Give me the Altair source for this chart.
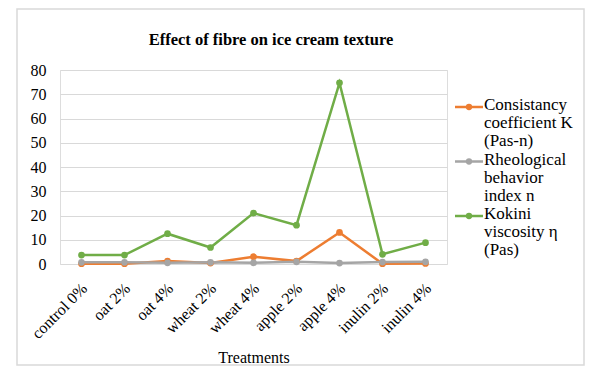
import altair as alt
import pandas as pd

treatments = ["control 0%", "oat 2%", "oat 4%", "wheat 2%", "wheat 4%",
              "apple 2%", "apple 4%", "inulin 2%", "inulin 4%"]
series_names = ["Consistancy coefficient K (Pas-n)",
                "Rheological behavior index n",
                "Kokini viscosity η (Pas)"]
legend_lines = [["Consistancy", "coefficient K", "(Pas-n)"],
                ["Rheological", "behavior", "index n"],
                ["Kokini", "viscosity η", "(Pas)"]]
chart_title = "Effect of fibre on ice cream texture"
consistency_k = [0.1, 0.1, 1.2, 0.4, 3.0, 1.2, 13.0, 0.1, 0.2]
behavior_n = [0.7, 0.7, 0.5, 0.7, 0.5, 0.9, 0.4, 0.8, 0.9]
kokini_eta = [3.7, 3.7, 12.5, 6.8, 21.0, 16.0, 74.7, 4.0, 8.8]
colors = ["#ED7D31", "#A5A5A5", "#70AD47"]
y_ticks = [0, 10, 20, 30, 40, 50, 60, 70, 80]

rows = []
for name, vals in zip(series_names, [consistency_k, behavior_n, kokini_eta]):
    for t, v in zip(treatments, vals):
        rows.append({"Treatment": t, "series": name, "value": v})
df = pd.DataFrame(rows)

FONT = "Liberation Serif"
color_scale = alt.Scale(domain=series_names, range=colors)

base = alt.Chart(df).encode(
    x=alt.X("Treatment:N", sort=treatments, title="Treatments",
            axis=alt.Axis(labelAngle=-45, labelFontSize=16, titleFontSize=16,
                          labelFont=FONT, titleFont=FONT, labelColor="#000",
                          titleColor="#000", titleFontWeight="normal",
                          ticks=False, domain=False, grid=False,
                          labelPadding=16, labelOffset=-3, titlePadding=8)),
    y=alt.Y("value:Q", scale=alt.Scale(domain=[0, 80]), title=None,
            axis=alt.Axis(values=y_ticks, labelFontSize=16, labelFont=FONT,
                          labelColor="#000", ticks=False, domain=False,
                          gridColor="#d9d9d9", labelPadding=14)),
    color=alt.Color("series:N", scale=color_scale, legend=None),
    order=alt.Order("series:N"),
)
lines = base.mark_line(strokeWidth=2.5)
points = base.mark_circle(size=45, opacity=1)
main = alt.layer(lines, points)

leg_df = pd.DataFrame({"series": series_names,
                       "label": legend_lines})
leg_y = alt.Y("series:N", sort=series_names, axis=None,
              scale=alt.Scale(domain=series_names, range=[37, 146], type="point", padding=0))
leg_rule = alt.Chart(leg_df).mark_rule(strokeWidth=2.5).encode(
    x=alt.value(395), x2=alt.value(423), y=leg_y,
    color=alt.Color("series:N", scale=color_scale, legend=None))
leg_pt = alt.Chart(leg_df).mark_circle(size=40, opacity=1).encode(
    x=alt.value(409), y=leg_y,
    color=alt.Color("series:N", scale=color_scale, legend=None))
leg_txt = alt.Chart(leg_df).mark_text(align="left", baseline="top", dy=-10,
                                      fontSize=17, font=FONT, color="#000",
                                      lineHeight=18.2).encode(
    x=alt.value(424), y=leg_y, text="label")
legend = alt.layer(leg_rule, leg_pt, leg_txt)

title = alt.Chart(pd.DataFrame({"t": [chart_title]})).mark_text(
    align="center", baseline="middle", font=FONT, fontSize=16.5,
    fontWeight="bold", color="#000").encode(
    x=alt.value(211), y=alt.value(-30), text="t:N")

frame = alt.Chart(pd.DataFrame({"a": [0]})).mark_rect(
    fill=None, stroke="#d9d9d9", strokeWidth=1.5).encode(
    x=alt.value(-43), x2=alt.value(524), y=alt.value(-61), y2=alt.value(295))

chart = alt.layer(frame, title, main, legend).resolve_scale(
    y="independent"
).properties(
    width=387, height=194,
    autosize=alt.AutoSizeParams(type="none"),
    padding={"left": 52, "top": 62, "right": 150, "bottom": 103},
).configure_view(stroke=None).configure(font=FONT)

chart.save("out.html", embed_options={"renderer": "svg", "actions": False})
